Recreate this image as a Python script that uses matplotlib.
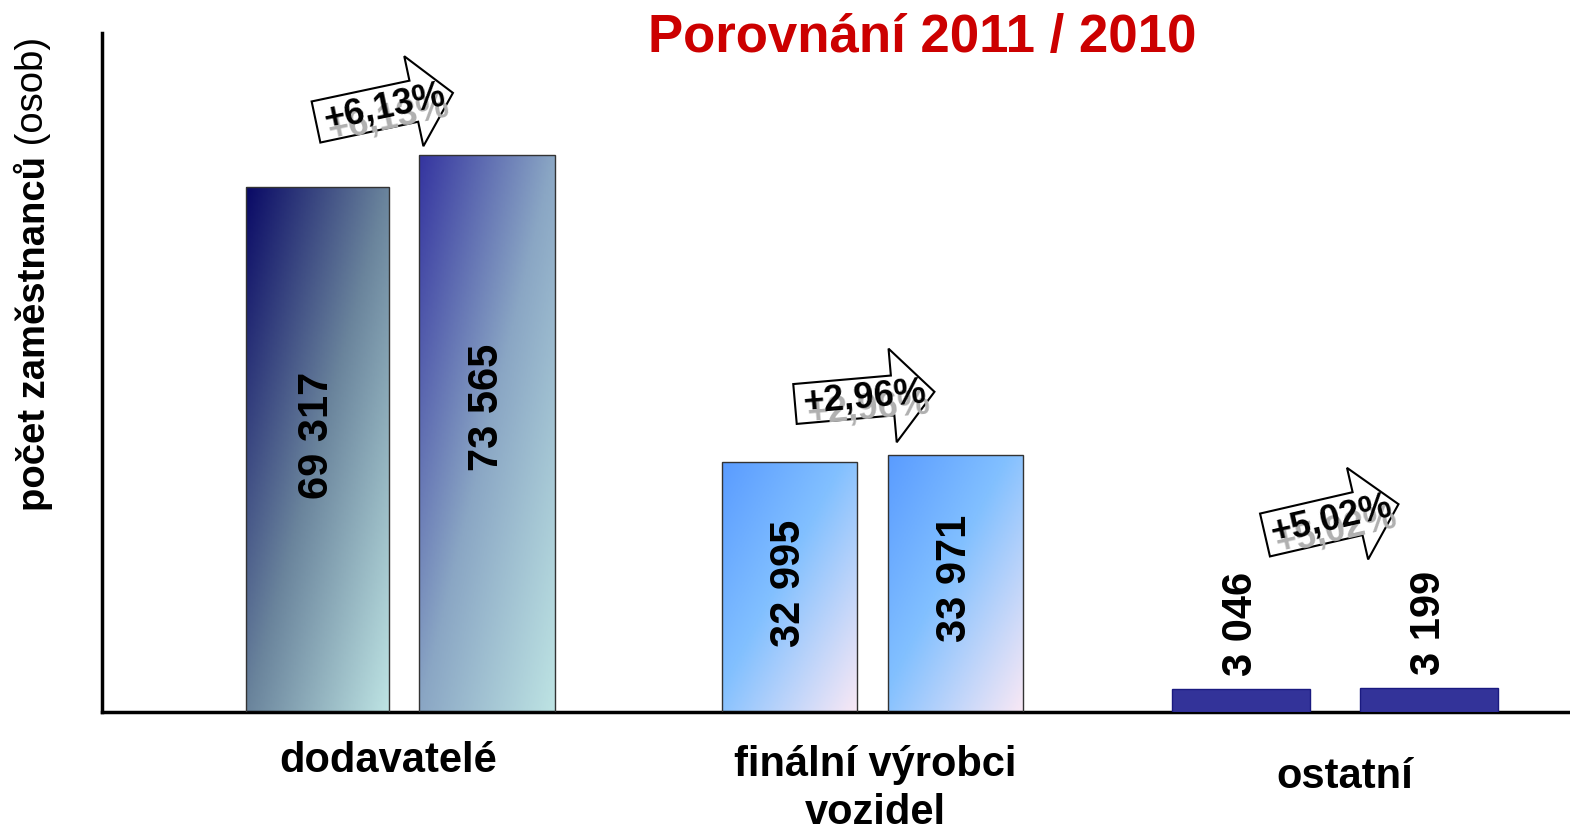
# -*- coding: utf-8 -*-
# Porovnani 2011 / 2010 - pocet zamestnancu
import numpy as np
import matplotlib
matplotlib.use('Agg')
import matplotlib.pyplot as plt
import matplotlib.transforms as mtransforms
from matplotlib.colors import LinearSegmentedColormap
from matplotlib.patches import Polygon

# data
categories = ['dodavatelé', 'finální výrobci\nvozidel', 'ostatní']
v2010 = [69317, 32995, 3046]
v2011 = [73565, 33971, 3199]
changes = ['+6,13%', '+2,96%', '+5,02%']

# layout (x axis is in reference pixels)
W, H = 1570, 827
x2010 = [317.5, 789.5, 1241]
x2011 = [487, 955.5, 1429]
w2010 = [143, 135, 138]
w2011 = [136, 135, 138]
cat_x = [388, 875, 1345]
cat_y = [-0.072, -0.113, -0.096]
lbl_lift = [[14, 26], [4, 5], [0, 0]]   # px lift of in-bar labels
# arrows: tail x, tail y (ref px), angle, length, body half w, head half w, head len
arrows = [(316, 122, 12, 140, 21, 46, 40),
          (795, 404, 5, 140, 20, 47, 42),
          (1265, 535, 13, 137, 22, 47, 42)]

plt.rcParams['font.family'] = ['Liberation Sans', 'DejaVu Sans']

fig = plt.figure(figsize=(W / 100, H / 100), dpi=100)
ax = fig.add_axes([102 / W, (H - 712) / H, 1466 / W, (712 - 33) / H])
ax.set_xlim(102, 1568)
ax.set_ylim(0, 89700)

# gradient colour maps per bar
cm_g1a = LinearSegmentedColormap.from_list('g1a', ['#0a0a66', '#6a849c', '#bde3e3'])
cm_g1b = LinearSegmentedColormap.from_list('g1b', ['#3535a0', '#8aa6c4', '#bde3e3'])
cm_g2 = LinearSegmentedColormap.from_list('g2', [(0, '#5a9cff'), (0.45, '#82c0ff'), (1, '#f8e8f5')])
bar_cmaps = [[cm_g1a, cm_g1b], [cm_g2, cm_g2], [None, None]]


def gradient_bar(x, w, h, cmap):
    if cmap is None:
        b = ax.bar(x, h, w, color='#333399', edgecolor='#1a1a80', linewidth=1, zorder=3)
        return
    b = ax.bar(x, h, w, facecolor='none', edgecolor='#333333', linewidth=1, zorder=3)
    yy, xx = np.mgrid[0:1:200j, 0:1:60j]
    t = 0.5 * xx + 0.5 * yy   # top-left dark -> bottom-right light
    im = ax.imshow(t, cmap=cmap, extent=(x - w / 2, x + w / 2, 0, h), origin='upper',
                   aspect='auto', zorder=2, vmin=0, vmax=1)
    im.set_clip_path(b.patches[0])


def fmt(v):
    return f'{v:,}'.replace(',', ' ')


for i in range(len(categories)):
    for j, (xs, ws, vals) in enumerate([(x2010, w2010, v2010), (x2011, w2011, v2011)]):
        gradient_bar(xs[i], ws[i], vals[i], bar_cmaps[i][j])
        if vals[i] > 10000:
            ax.annotate(fmt(vals[i]), xy=(xs[i], vals[i] / 2), xytext=(0, lbl_lift[i][j] * 0.72),
                        textcoords='offset points', rotation=90, ha='center', va='center',
                        fontsize=30, fontweight='bold', zorder=5)
        else:
            ax.annotate(fmt(vals[i]), xy=(xs[i], vals[i]), xytext=(0, 9),
                        textcoords='offset points', rotation=90, ha='center', va='bottom',
                        fontsize=30, fontweight='bold', zorder=5)

# category labels
for x, y, c in zip(cat_x, cat_y, categories):
    ax.text(x, y, c, transform=ax.get_xaxis_transform(), ha='center', va='center',
            fontsize=30, fontweight='bold', linespacing=1.25, clip_on=False)

# axes look
ax.set_xticks([])
ax.set_yticks([])
for s in ['top', 'right']:
    ax.spines[s].set_visible(False)
ax.spines['left'].set_linewidth(2.5)
ax.spines['bottom'].set_linewidth(2.5)

# block arrows with change in %
for (tx, ty, ang, L, bw, hw, hl), txt in zip(arrows, changes):
    tr = mtransforms.Affine2D().rotate_deg(ang).translate(tx, H - ty).scale(1 / W, 1 / H) + fig.transFigure
    verts = [(0, -bw), (L - hl, -bw), (L - hl, -hw), (L, 0), (L - hl, hw), (L - hl, bw), (0, bw)]
    fig.patches.append(Polygon(verts, closed=True, facecolor='white', edgecolor='black',
                               linewidth=1.5, transform=tr, zorder=6))
    sh = mtransforms.offset_copy(tr, fig=fig, x=4, y=-9, units='dots')
    fig.text(L * 0.5, -2, txt, transform=sh, rotation=ang, rotation_mode='anchor',
             ha='center', va='center', fontsize=26, fontweight='bold', color='#b0b0b0', zorder=7)
    fig.text(L * 0.5, 0, txt, transform=tr, rotation=ang, rotation_mode='anchor',
             ha='center', va='center', fontsize=26, fontweight='bold', color='black', zorder=8)

# title
fig.text(922 / W, 1 - 38 / H, 'Porovnání 2011 / 2010', ha='center', va='center',
         fontsize=38, fontweight='bold', color='#cc0000')

# y label: bold part + normal part
yl = fig.text(33 / W, 1 - 511 / H, 'počet zaměstnanců', rotation=90, rotation_mode='anchor',
              ha='left', va='center', fontsize=27.5, fontweight='bold')
ax.annotate(' (osob)', xy=(0.5, 1), xycoords=yl, rotation=90, rotation_mode='anchor',
            ha='left', va='center', fontsize=27.5, annotation_clip=False)

plt.savefig('out.png', dpi=100)
